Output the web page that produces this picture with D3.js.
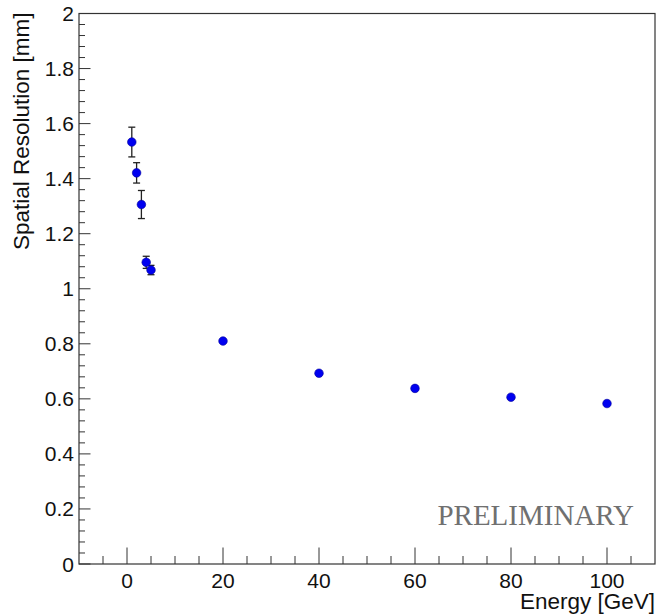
<!DOCTYPE html>
<html>
<head>
<meta charset="utf-8">
<script src="https://cdn.jsdelivr.net/npm/d3@7"></script>
<style>
  body { margin: 0; background: #fff; }
  svg { display: block; font-family: "Liberation Sans", Arial, sans-serif; }
</style>
</head>
<body>
<svg id="chart" width="658" height="614"></svg>
<script>
// Data
const energy = [1, 2, 3, 4, 5, 20, 40, 60, 80, 100];
const resolution = [1.533, 1.421, 1.306, 1.096, 1.068, 0.810, 0.693, 0.638, 0.606, 0.583];
const resErr = [0.054, 0.037, 0.051, 0.022, 0.017, 0.005, 0.005, 0.005, 0.005, 0.005];
const xTicks = [0, 20, 40, 60, 80, 100];
const yTicks = [0, 0.2, 0.4, 0.6, 0.8, 1, 1.2, 1.4, 1.6, 1.8, 2];

const svg = d3.select("#chart");

// Frame
const fLeft = 79, fRight = 655, fTop = 13.5, fBottom = 564;

const x = d3.scaleLinear().domain([-10, 110]).range([fLeft, fRight]);
const y = d3.scaleLinear().domain([0, 2]).range([fBottom, fTop]);

const axisColor = "#333";

// frame box
svg.append("rect")
    .attr("x", fLeft).attr("y", fTop)
    .attr("width", fRight - fLeft).attr("height", fBottom - fTop)
    .attr("fill", "none")
    .attr("stroke", axisColor)
    .attr("stroke-width", 1.2);

// x axis ticks (drawn inward)
const xMinor = d3.range(-5, 110, 5).filter(v => v % 20 !== 0);
svg.append("g").selectAll("line")
    .data(xMinor)
    .join("line")
    .attr("x1", d => x(d)).attr("x2", d => x(d))
    .attr("y1", fBottom).attr("y2", fBottom - 8)
    .attr("stroke", axisColor);
svg.append("g").selectAll("line")
    .data(xTicks)
    .join("line")
    .attr("x1", d => x(d)).attr("x2", d => x(d))
    .attr("y1", fBottom).attr("y2", fBottom - 16.5)
    .attr("stroke", axisColor);
svg.append("g").selectAll("text")
    .data(xTicks)
    .join("text")
    .attr("x", d => x(d))
    .attr("y", 588)
    .attr("text-anchor", "middle")
    .attr("font-size", 21)
    .attr("fill", "#111")
    .text(d => d);

// y axis ticks
const yMinor = d3.range(0, 2.0001, 0.04).map(v => +v.toFixed(2))
    .filter(v => Math.abs(v / 0.2 - Math.round(v / 0.2)) > 1e-6);
svg.append("g").selectAll("line")
    .data(yMinor)
    .join("line")
    .attr("x1", fLeft).attr("x2", fLeft + 6)
    .attr("y1", d => y(d)).attr("y2", d => y(d))
    .attr("stroke", axisColor);
svg.append("g").selectAll("line")
    .data(yTicks)
    .join("line")
    .attr("x1", fLeft).attr("x2", fLeft + 11.5)
    .attr("y1", d => y(d)).attr("y2", d => y(d))
    .attr("stroke", axisColor);
svg.append("g").selectAll("text")
    .data(yTicks)
    .join("text")
    .attr("x", 74)
    .attr("y", d => y(d) + 7.5)
    .attr("text-anchor", "end")
    .attr("font-size", 21)
    .attr("fill", "#111")
    .text(d => d);

// axis titles
svg.append("text")
    .attr("x", fRight)
    .attr("y", 609)
    .attr("text-anchor", "end")
    .attr("font-size", 22.5)
    .attr("fill", "#111")
    .text("Energy [GeV]");

svg.append("text")
    .attr("transform", `translate(29, ${fTop - 1}) rotate(-90)`)
    .attr("text-anchor", "end")
    .attr("font-size", 22.5)
    .attr("fill", "#111")
    .text("Spatial Resolution [mm]");

// points
const pts = energy.map((e, i) => ({ e, r: resolution[i], err: resErr[i] }));
const capped = pts.filter(d => d.err > 0.01);

// error bars
const bars = svg.append("g").attr("stroke", "#222").attr("stroke-width", 1.3);
bars.append("g").selectAll("line")
    .data(pts)
    .join("line")
    .attr("x1", d => x(d.e)).attr("x2", d => x(d.e))
    .attr("y1", d => y(d.r + d.err)).attr("y2", d => y(d.r - d.err));
bars.append("g").selectAll("line")
    .data(capped)
    .join("line")
    .attr("x1", d => x(d.e) - 3.5).attr("x2", d => x(d.e) + 3.5)
    .attr("y1", d => y(d.r + d.err)).attr("y2", d => y(d.r + d.err));
bars.append("g").selectAll("line")
    .data(capped)
    .join("line")
    .attr("x1", d => x(d.e) - 3.5).attr("x2", d => x(d.e) + 3.5)
    .attr("y1", d => y(d.r - d.err)).attr("y2", d => y(d.r - d.err));

svg.append("g").selectAll("circle")
    .data(pts)
    .join("circle")
    .attr("cx", d => x(d.e))
    .attr("cy", d => y(d.r))
    .attr("r", 4.3)
    .attr("fill", "#0000f0")
    .attr("stroke", "#00009a")
    .attr("stroke-width", 0.6);

// watermark
svg.append("text")
    .attr("x", 634)
    .attr("y", 525)
    .attr("text-anchor", "end")
    .attr("font-family", "'Liberation Serif', 'Times New Roman', serif")
    .attr("font-size", 29)
    .attr("fill", "#707070")
    .text("PRELIMINARY");
</script>
</body>
</html>
